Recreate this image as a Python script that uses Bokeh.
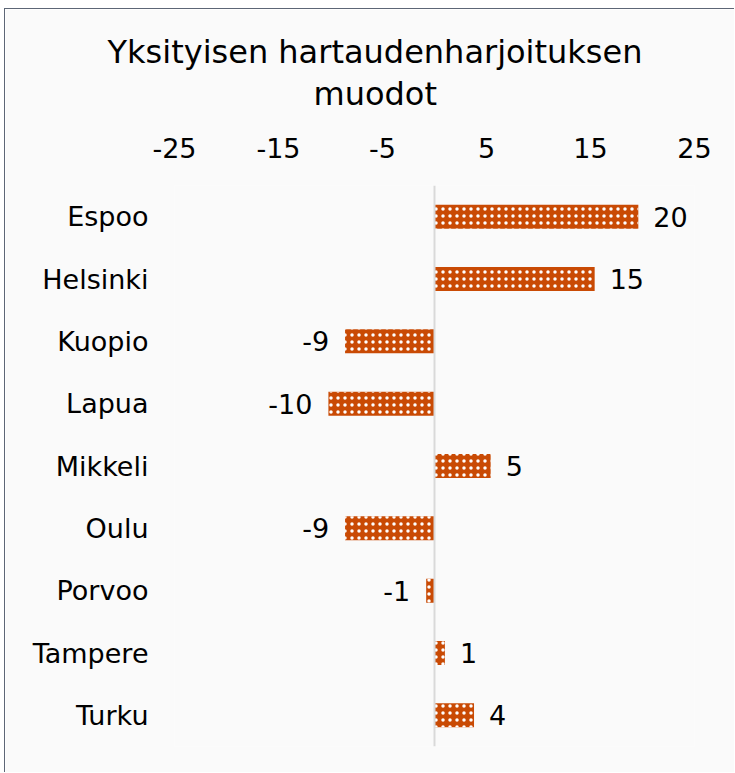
from bokeh.plotting import figure
from bokeh.models import ColumnDataSource, FixedTicker, Range1d, FactorRange, Span, Title
from bokeh.core.properties import value
from bokeh.embed import file_html
from bokeh.resources import INLINE

cities = ["Espoo", "Helsinki", "Kuopio", "Lapua", "Mikkeli", "Oulu", "Porvoo", "Tampere", "Turku"]
values = [19.6, 15.4, -8.6, -10.2, 5.4, -8.6, -0.8, 1.0, 3.8]
tick_values = [-25, -15, -5, 5, 15, 25]
title_lines = ["Yksityisen hartaudenharjoituksen", "muodot"]

FONT = "DejaVu Sans"
BAR = "#C94A04"
BG = "#FAFAFA"

labels = ["{:.0f}".format(v) for v in values]
aligns = ["left" if v >= 0 else "right" for v in values]
offsets = [15 if v >= 0 else -16 for v in values]

src = ColumnDataSource(dict(city=cities, val=values, lab=labels, al=aligns, off=offsets,
                            zero=[0] * len(values)))

p = figure(width=730, height=764, output_backend="svg", toolbar_location=None,
           x_range=Range1d(-25, 25), y_range=FactorRange(*reversed(cities)),
           x_axis_location="above", title=None,
           min_border_left=169, min_border_right=41, min_border_top=176, min_border_bottom=27)
p.background_fill_color = BG
p.border_fill_color = BG
p.outline_line_color = None
p.grid.visible = False
p.styles = {"margin-left": "4px", "margin-top": "8px",
            "border-left": "1px solid #5d6676", "border-top": "1px solid #5d6676"}

p.hbar(y="city", left="zero", right="val", height=0.385, source=src,
       fill_color=BAR, line_color=None,
       hatch_pattern="dot", hatch_color="white", hatch_scale=7, hatch_weight=1)

p.add_layout(Span(location=0, dimension="height", line_color="#d9d9d9", line_width=2))

p.text(x="val", y="city", text="lab", source=src, x_offset="off", text_align="al",
       text_baseline="middle", text_font=value(FONT), text_font_size="27px", text_color="#000000")

xa = p.xaxis[0]
xa.ticker = FixedTicker(ticks=tick_values)
xa.major_label_overrides = {t: str(t) for t in tick_values}
xa.axis_line_color = None
xa.major_tick_line_color = None
xa.minor_tick_line_color = None
xa.major_label_text_font = FONT
xa.major_label_text_font_size = "27px"
xa.major_label_text_color = "#000000"
xa.major_label_standoff = 22

ya = p.yaxis[0]
ya.axis_line_color = None
ya.major_tick_line_color = None
ya.minor_tick_line_color = None
ya.major_label_text_font = FONT
ya.major_label_text_font_size = "27px"
ya.major_label_text_color = "#000000"
ya.major_label_standoff = 20

# title lines, centred around x = 374 px (frame left at 174 px)
t2 = Title(text=title_lines[1], align="left", offset=139, text_font=FONT,
           text_font_size="32px", text_font_style="normal", text_color="#000000", standoff=0)
t2.padding = {"bottom": 22}
p.add_layout(t2, "above")
p.add_layout(Title(text=title_lines[0], align="left", offset=-67, text_font=FONT,
                   text_font_size="32px", text_font_style="normal", text_color="#000000",
                   standoff=4), "above")

open("out.html", "w").write(file_html(p, INLINE))
